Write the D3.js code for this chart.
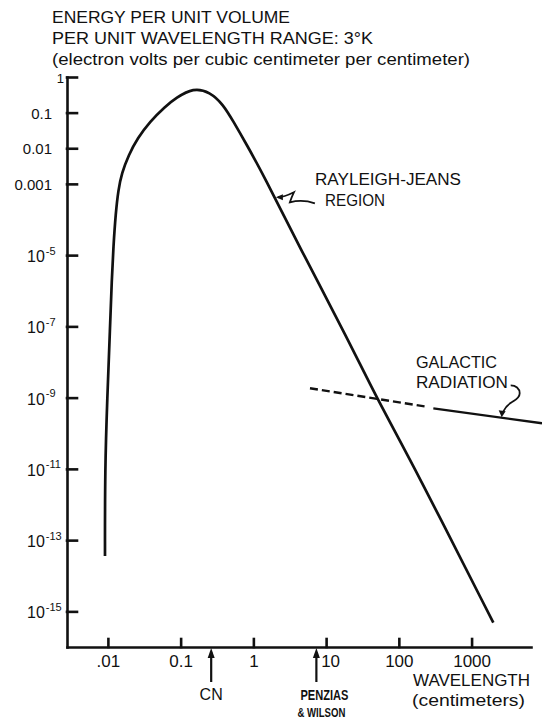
<!DOCTYPE html>
<html lang="en">
<head>
<meta charset="utf-8">
<title>Energy per unit wavelength range: 3 K</title>
<script src="https://d3js.org/d3.v7.min.js"></script>
<style>
  body { margin: 0; background: #fff; }
  svg { display: block; }
  text { font-family: "Liberation Sans", Arial, sans-serif; fill: #111; }
  .axis path, .axis line { stroke: #111; stroke-width: 2.6; stroke-linecap: square; }
</style>
</head>
<body>
<script>
// values (wavelength in cm, energy in eV / cm^3 / cm)
const curveLambda = [0.00912, 0.00912, 0.0098, 0.0107, 0.0113, 0.0119, 0.0128, 0.0139, 0.0155, 0.0193,
                     0.0255, 0.0379, 0.0609, 0.0863, 0.149, 0.253, 0.386, 0.529, 0.809, 1.37,
                     4.37, 20.2, 49.6, 167, 1990];
const curveEnergy = [3.6e-14, 1.0e-11, 9.8e-10, 9.0e-8, 2.0e-6, 1.7e-5, 1.5e-4, 6.7e-4, 2.0e-3, 6.5e-3,
                     0.019, 0.056, 0.147, 0.257, 0.50, 0.38, 0.167, 0.057, 0.0126, 1.81e-3,
                     1.6e-5, 4.15e-8, 9.6e-10, 1.04e-11, 4.8e-16];

const galacticDashedLambda = [6.0, 241];
const galacticDashedEnergy = [1.83e-9, 5.56e-10];
const galacticSolidLambda = [298, 9290];
const galacticSolidEnergy = [5.0e-10, 1.9e-10];

const xTicks = [0.01, 0.1, 1, 10, 100, 1000];
const xTickLabels = [".01", "0.1", "1", "10", "100", "1000"];
const yTicks = [1, 0.1, 0.01, 0.001, 1e-5, 1e-7, 1e-9, 1e-11, 1e-13, 1e-15];
const yTickLabels = ["1", "0.1", "0.01", "0.001", "-5", "-7", "-9", "-11", "-13", "-15"];

const markerNames = ["CN", "PENZIAS"];
const markerLambda = [0.263, 7.35];

const titleLines = ["ENERGY PER UNIT VOLUME",
                    "PER UNIT WAVELENGTH RANGE: 3\u00B0K",
                    "(electron volts per cubic centimeter per centimeter)"];

const width = 542;
const height = 719;

const x = d3.scaleLog().domain([0.00274, 6560]).range([67, 531]);
const y = d3.scaleLog().domain([1e-16, 1]).range([647, 77]);

const svg = d3.select("body")
    .append("svg")
    .attr("width", width)
    .attr("height", height);

// title block
const titleLen = [238, 321, 418];
svg.selectAll("text.title")
    .data(titleLines)
    .enter()
    .append("text")
    .attr("class", "title")
    .attr("x", 52)
    .attr("y", (d, i) => 23 + i * 21)
    .attr("font-size", (d, i) => i < 2 ? 17 : 16)
    .attr("textLength", (d, i) => titleLen[i])
    .attr("lengthAdjust", "spacingAndGlyphs")
    .text(d => d);

// x axis
const gx = svg.append("g")
    .attr("class", "axis")
    .attr("transform", "translate(0," + y.range()[0] + ")")
    .call(d3.axisBottom(x)
        .tickValues(xTicks)
        .tickSize(-8)
        .tickSizeOuter(0)
        .tickPadding(8)
        .tickFormat((d, i) => xTickLabels[i]));
gx.selectAll("text")
    .attr("font-size", 17)
    .attr("fill", "#111")
    .attr("dx", (d, i) => xTickLabels[i] === "10" ? 4 : 0);

// y axis
const gy = svg.append("g")
    .attr("class", "axis")
    .attr("transform", "translate(" + x.range()[0] + ",0)")
    .call(d3.axisLeft(y)
        .tickValues(yTicks)
        .tickSize(-10)
        .tickSizeOuter(0)
        .tickFormat(""));
gy.selectAll(".tick").each(function (d, i) {
    const lab = yTickLabels[i];
    const t = d3.select(this).append("text").attr("fill", "#111");
    if (lab === "1") {
        t.attr("x", -3).attr("y", 5).attr("font-size", 13).attr("text-anchor", "end").text(lab);
    } else if (lab.startsWith("0")) {
        t.attr("x", -15).attr("dy", "0.36em").attr("font-size", 15).attr("text-anchor", "end").text(lab);
    } else {
        t.attr("x", -40).attr("y", 6.5).attr("text-anchor", "start");
        t.append("tspan").attr("font-size", 16).text("10");
        t.append("tspan").attr("font-size", 11).attr("dy", -7.5).attr("dx", 1).text(lab);
    }
});

// blackbody curve
const pts = curveLambda.map((l, i) => [x(l), y(curveEnergy[i])]);
svg.append("path")
    .attr("d", d3.line().curve(d3.curveBasis)(pts))
    .attr("fill", "none")
    .attr("stroke", "#111")
    .attr("stroke-width", 2.7)
    .attr("stroke-linejoin", "round");

// galactic radiation
const lineXY = d3.line();
svg.append("path")
    .attr("d", lineXY(galacticDashedLambda.map((l, i) => [x(l), y(galacticDashedEnergy[i])])))
    .attr("fill", "none")
    .attr("stroke", "#111")
    .attr("stroke-width", 2.4)
    .attr("stroke-dasharray", "8,4");
svg.append("path")
    .attr("d", lineXY(galacticSolidLambda.map((l, i) => [x(l), y(galacticSolidEnergy[i])])))
    .attr("fill", "none")
    .attr("stroke", "#111")
    .attr("stroke-width", 2.4);

// arrows under the axis
const mk = svg.selectAll("g.marker")
    .data(markerLambda)
    .enter()
    .append("g")
    .attr("class", "marker")
    .attr("transform", d => "translate(" + x(d) + ",0)");
mk.append("line")
    .attr("y1", 652).attr("y2", 682)
    .attr("stroke", "#111").attr("stroke-width", 2.2);
mk.append("path")
    .attr("d", "M0,648L3.5,658L-3.5,658Z")
    .attr("fill", "#111");

svg.append("text")
    .attr("x", x(markerLambda[0])).attr("y", 700)
    .attr("text-anchor", "middle").attr("font-size", 16)
    .text(markerNames[0]);
svg.append("text")
    .attr("x", x(markerLambda[1]) + 8).attr("y", 700)
    .attr("text-anchor", "middle").attr("font-size", 14).attr("font-weight", "bold")
    .attr("textLength", 48).attr("lengthAdjust", "spacingAndGlyphs")
    .text(markerNames[1]);
svg.append("text")
    .attr("x", x(markerLambda[1]) + 5).attr("y", 717)
    .attr("text-anchor", "middle").attr("font-size", 13).attr("font-weight", "bold")
    .attr("textLength", 48).attr("lengthAdjust", "spacingAndGlyphs")
    .text("& WILSON");

// axis title
svg.append("text")
    .attr("x", 413).attr("y", 686)
    .attr("font-size", 17)
    .attr("textLength", 117).attr("lengthAdjust", "spacingAndGlyphs")
    .text("WAVELENGTH");
svg.append("text")
    .attr("x", 412).attr("y", 706)
    .attr("font-size", 17)
    .attr("textLength", 113).attr("lengthAdjust", "spacingAndGlyphs")
    .text("(centimeters)");

// Rayleigh-Jeans note
const rj = svg.append("g")
    .attr("transform", "translate(" + x(2.04) + "," + y(4.2e-4) + ")");
rj.append("path")
    .attr("d", "M2,0C8,0 12,-2 18,-5C16,-1 15,2 14,5C22,3 30,3 39,6")
    .attr("fill", "none").attr("stroke", "#111").attr("stroke-width", 1.8);
rj.append("path").attr("d", "M0,0L7,-3L7,3Z").attr("fill", "#111");
svg.append("text")
    .attr("x", 315).attr("y", 185).attr("font-size", 16)
    .attr("textLength", 146).attr("lengthAdjust", "spacingAndGlyphs")
    .text("RAYLEIGH-JEANS");
svg.append("text")
    .attr("x", 325).attr("y", 206).attr("font-size", 16)
    .attr("textLength", 60).attr("lengthAdjust", "spacingAndGlyphs")
    .text("REGION");

// galactic note
const gn = svg.append("g")
    .attr("transform", "translate(" + x(2594) + "," + y(2.8e-10) + ")");
gn.append("path")
    .attr("d", "M9,-32C14,-32 18,-29 18,-24C18,-19 13,-17 10,-15C5,-12 3,-9 1,-5")
    .attr("fill", "none").attr("stroke", "#111").attr("stroke-width", 1.8);
gn.append("path").attr("d", "M0,0L-3,-7L4,-6Z").attr("fill", "#111");
svg.append("text")
    .attr("x", 416).attr("y", 368).attr("font-size", 16)
    .attr("textLength", 81).attr("lengthAdjust", "spacingAndGlyphs")
    .text("GALACTIC");
svg.append("text")
    .attr("x", 416).attr("y", 388).attr("font-size", 16)
    .attr("textLength", 92).attr("lengthAdjust", "spacingAndGlyphs")
    .text("RADIATION");
</script>
</body>
</html>
